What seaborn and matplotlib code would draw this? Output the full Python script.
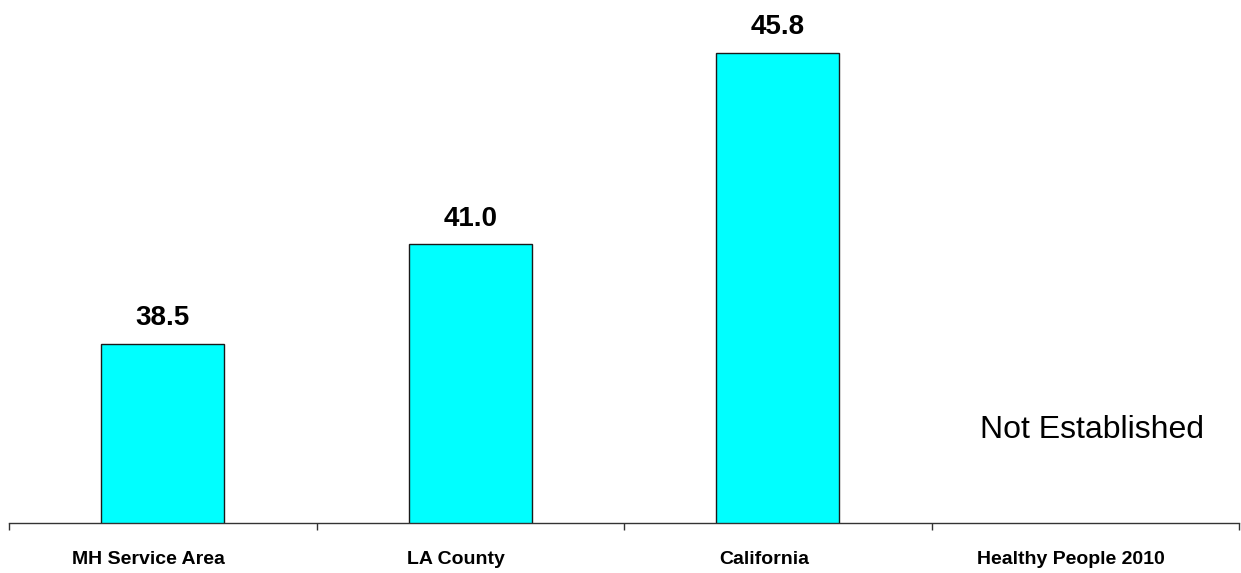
import matplotlib
matplotlib.use("Agg")
import matplotlib.pyplot as plt
import matplotlib.transforms as mtransforms
import seaborn as sns
import numpy as np
import pandas as pd

# data
categories = ["MH Service Area", "LA County", "California", "Healthy People 2010"]
values = [38.5, 41.0, 45.8, np.nan]
no_target_note = "Not Established"

df = pd.DataFrame({"area": categories, "rate": values})

sns.set_style("white")
plt.rcParams["font.family"] = ["Liberation Sans", "DejaVu Sans"]
plt.rcParams["text.color"] = "black"
plt.rcParams["xtick.color"] = "black"

fig = plt.figure(figsize=(12.41, 5.73), dpi=100)
ax = fig.add_axes([9 / 1241, 50 / 573, 1230 / 1241, 523 / 573])

sns.barplot(data=df, x="area", y="rate", order=categories, color="#00FFFF",
            saturation=1, width=0.4, edgecolor="#1a1a1a", linewidth=1, ax=ax)

ax.set_xlim(-0.5, len(categories) - 0.5)
ax.set_ylim(34, 47.13)

# value labels over the bars
for p in ax.patches:
    h = p.get_height()
    if np.isnan(h):
        continue
    ax.annotate(f"{h:.1f}", (p.get_x() + p.get_width() / 2, h),
                xytext=(0, 9), textcoords="offset points",
                ha="center", va="bottom", fontsize=20, fontweight="bold",
                color="black")

# note in place of the missing target bar
note = ax.text(3, 0.178, no_target_note, transform=ax.get_xaxis_transform(),
               ha="center", va="center", fontsize=23, color="black")
note.set_transform(note.get_transform() +
                   mtransforms.ScaledTranslation(7 / 100, 0, fig.dpi_scale_trans))

# axis styling
for s in ["top", "right", "left"]:
    ax.spines[s].set_visible(False)
ax.spines["bottom"].set_color("#333333")
ax.spines["bottom"].set_linewidth(1)
ax.set_yticks([])
ax.set_xlabel("")
ax.set_ylabel("")
ax.set_xticks(range(len(categories)))
ax.set_xticklabels(categories, fontsize=14, fontweight="bold",
                   family=["Liberation Sans Narrow", "Liberation Sans"])
ax.tick_params(axis="x", which="major", bottom=True, length=0, pad=20)
ax.set_xticks(np.arange(-0.5, len(categories)), minor=True)
ax.tick_params(axis="x", which="minor", bottom=True, length=5, width=1,
               color="#333333", direction="out")

# labels sit a little left of the category centre in the original
shift = mtransforms.ScaledTranslation(-14 / 100, 0, fig.dpi_scale_trans)
for lab in ax.get_xticklabels():
    lab.set_transform(lab.get_transform() + shift)

fig.savefig("out.png", dpi=100)
